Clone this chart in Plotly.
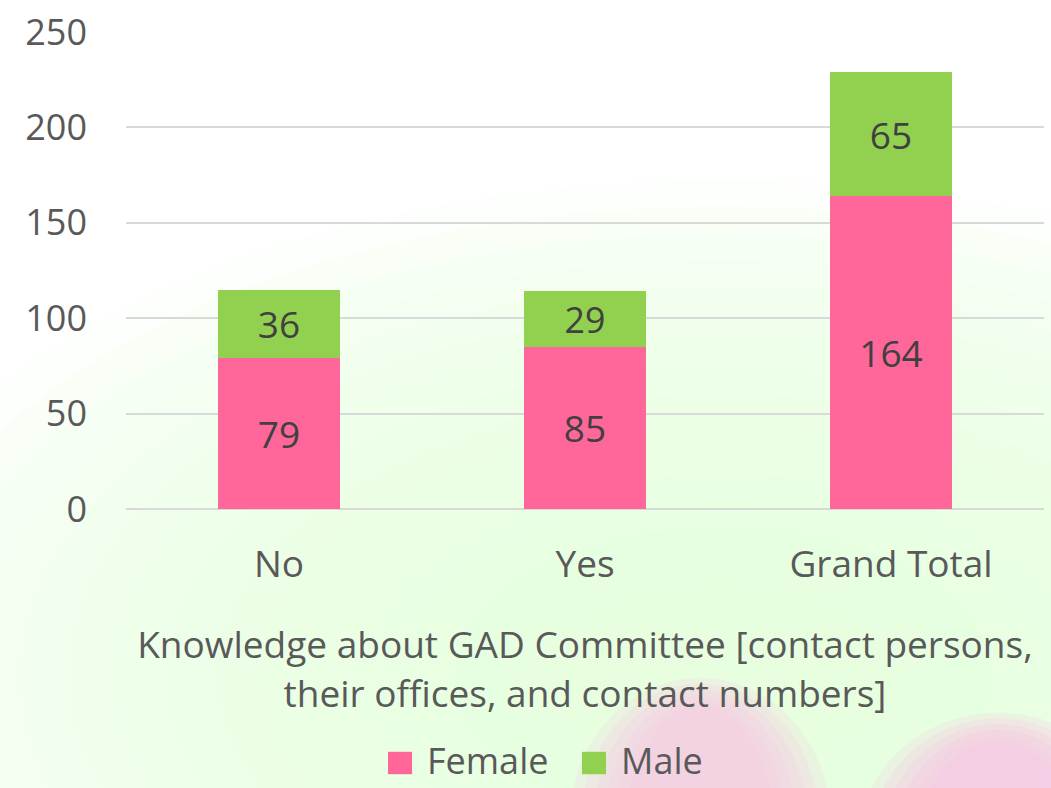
import plotly.graph_objects as go

# data
CATEGORIES = ["No", "Yes", "Grand Total"]
FEMALE = [79, 85, 164]
MALE = [36, 29, 65]
Y_TICKS = [0, 50, 100, 150, 200, 250]

PINK = "#FF6699"
GREEN = "#92D050"
TEXT = "#595959"
LABEL = "#404040"
FONT = "Open Sans, Lato, sans-serif"

fig = go.Figure()
for name, vals, col in [("Female", FEMALE, PINK), ("Male", MALE, GREEN)]:
    fig.add_trace(go.Bar(
        x=CATEGORIES, y=vals, name=name,
        marker=dict(color=col, line=dict(width=0)),
        text=vals, textposition="inside", insidetextanchor="middle",
        textfont=dict(size=37, color=LABEL, family=FONT),
        textangle=0, width=0.4,
    ))

# soft background: white upper-left fading to pale green, pink petals at the bottom
shapes = []
for i in range(16):
    r = 1.3 - i * 0.07
    shapes.append(dict(type="circle", xref="paper", yref="paper",
                       x0=0.65 - r * 0.75, x1=0.65 + r * 0.75, y0=-0.35 - r * 0.8, y1=-0.35 + r * 0.8,
                       fillcolor="rgba(232,252,220,0.12)", line=dict(width=0), layer="below"))
for i in range(6):
    d = i * 0.012
    shapes.append(dict(type="circle", xref="paper", yref="paper",
                       x0=0.484 + d, x1=0.767 - d, y0=-0.95, y1=-0.354 - d,
                       fillcolor="rgba(252,195,232,0.2)", line=dict(width=0), layer="below"))
    shapes.append(dict(type="circle", xref="paper", yref="paper",
                       x0=0.80 + d, x1=1.10 - d, y0=-0.95, y1=-0.427 - d,
                       fillcolor="rgba(252,190,228,0.2)", line=dict(width=0), layer="below"))

# custom legend
leg = [("Female", PINK, 0.2854), ("Male", GREEN, 0.4967)]
annotations = []
for name, col, x in leg:
    shapes.append(dict(type="rect", xref="paper", yref="paper",
                       x0=x, x1=x + 0.0262, y0=-0.556, y1=-0.509,
                       fillcolor=col, line=dict(width=0)))
    annotations.append(dict(text=name, xref="paper", yref="paper", x=x + 0.040, y=-0.528,
                            xanchor="left", yanchor="middle", showarrow=False,
                            font=dict(size=36, color=TEXT, family=FONT)))

fig.update_layout(
    barmode="stack",
    width=1051, height=788,
    margin=dict(l=126, r=7, t=26, b=279),
    paper_bgcolor="white",
    plot_bgcolor="rgba(0,0,0,0)",
    font=dict(family=FONT, color=TEXT, size=36),
    showlegend=False,
    shapes=shapes,
    annotations=annotations,
    xaxis=dict(
        tickfont=dict(size=37, color=TEXT),
        ticklabelstandoff=30,
        title=dict(text="Knowledge about GAD Committee [contact persons,<br>their offices, and contact numbers]",
                   font=dict(size=37, color=TEXT), standoff=45),
        showline=False, showgrid=False,
    ),
    yaxis=dict(
        range=[0, 250], tickvals=Y_TICKS,
        tickfont=dict(size=36, color=TEXT),
        gridcolor="#D9D9D9", gridwidth=2,
        zeroline=True, zerolinecolor="#D9D9D9", zerolinewidth=2,
        ticklabelstandoff=38,
    ),
)

fig.write_html("out.html", config={"displayModeBar": False},
               post_script="document.body.style.margin='0px';")
